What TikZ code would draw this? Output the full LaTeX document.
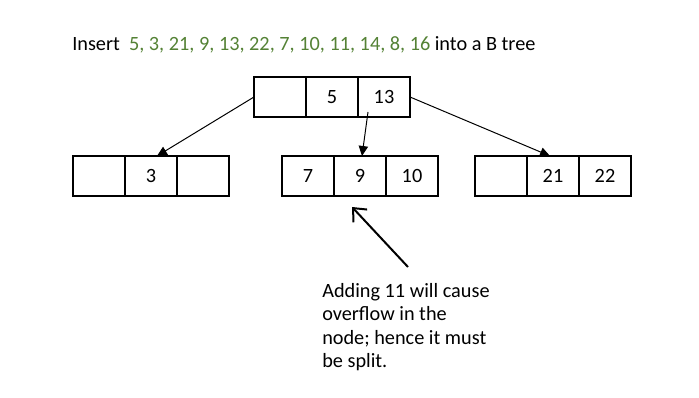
\documentclass[tikz,border=0pt]{standalone}
\usepackage{fontspec}
\setmainfont{Carlito}
\usetikzlibrary{arrows.meta,calc}
\definecolor{tgreen}{RGB}{84,130,53}
\begin{document}
\begin{tikzpicture}[x=0.75pt,y=-0.75pt,
  cell/.style={draw,line width=1.5pt,minimum width=39pt,minimum height=30pt,inner sep=0pt,outer sep=0pt,font=\fontsize{15.2}{17.5}\selectfont},
  link/.style={line width=0.75pt,-{Triangle[length=7.5pt,width=7pt]}},
  pointer/.style={line width=1.5pt,-{Straight Barb[length=8pt,width=14pt,line width=1.5pt]}},
  txt/.style={inner sep=0pt,font=\fontsize{15.2}{17.5}\selectfont}]
\useasboundingbox (0,0) rectangle (699,398);
\fill[white] (0,0) rectangle (699,398);
% title
\node[txt,anchor=base west] (title) at (72,51) {Insert\ \ {\color{tgreen}5, 3, 21, 9, 13, 22, 7, 10, 11, 14, 8, 16} into a B tree};
% root
\node[cell] (r1) at (280,97) {};
\node[cell] (r2) at (332,97) {5};
\node[cell] (r3) at (384,97) {13};
% left
\node[cell] (l1) at (99,176) {};
\node[cell] (l2) at (151,176) {3};
\node[cell] (l3) at (203,176) {};
% middle
\node[cell] (m1) at (308,176) {7};
\node[cell] (m2) at (360,176) {9};
\node[cell] (m3) at (412,176) {10};
% right
\node[cell] (q1) at (501,176) {};
\node[cell] (q2) at (553,176) {21};
\node[cell] (q3) at (605,176) {22};
% links
\draw[link] (r1.west) -- ($(l2.north)+(6,0)$);
\draw[link] ($(r3.south)+(-16,-5)$) -- ($(m2.north)+(2,0)$);
\draw[link] (r3.east) -- ($(q2.north)+(-3,0)$);
% annotation
\node[txt,anchor=north west,align=left] (note) at (322,283) {Adding 11 will cause\\overflow in the\\node; hence it must\\be split.};
\coordinate (p) at (408,267);
\draw[pointer] (p) -- ($(m2.south)+(-8,11)$);
\end{tikzpicture}
\end{document}
